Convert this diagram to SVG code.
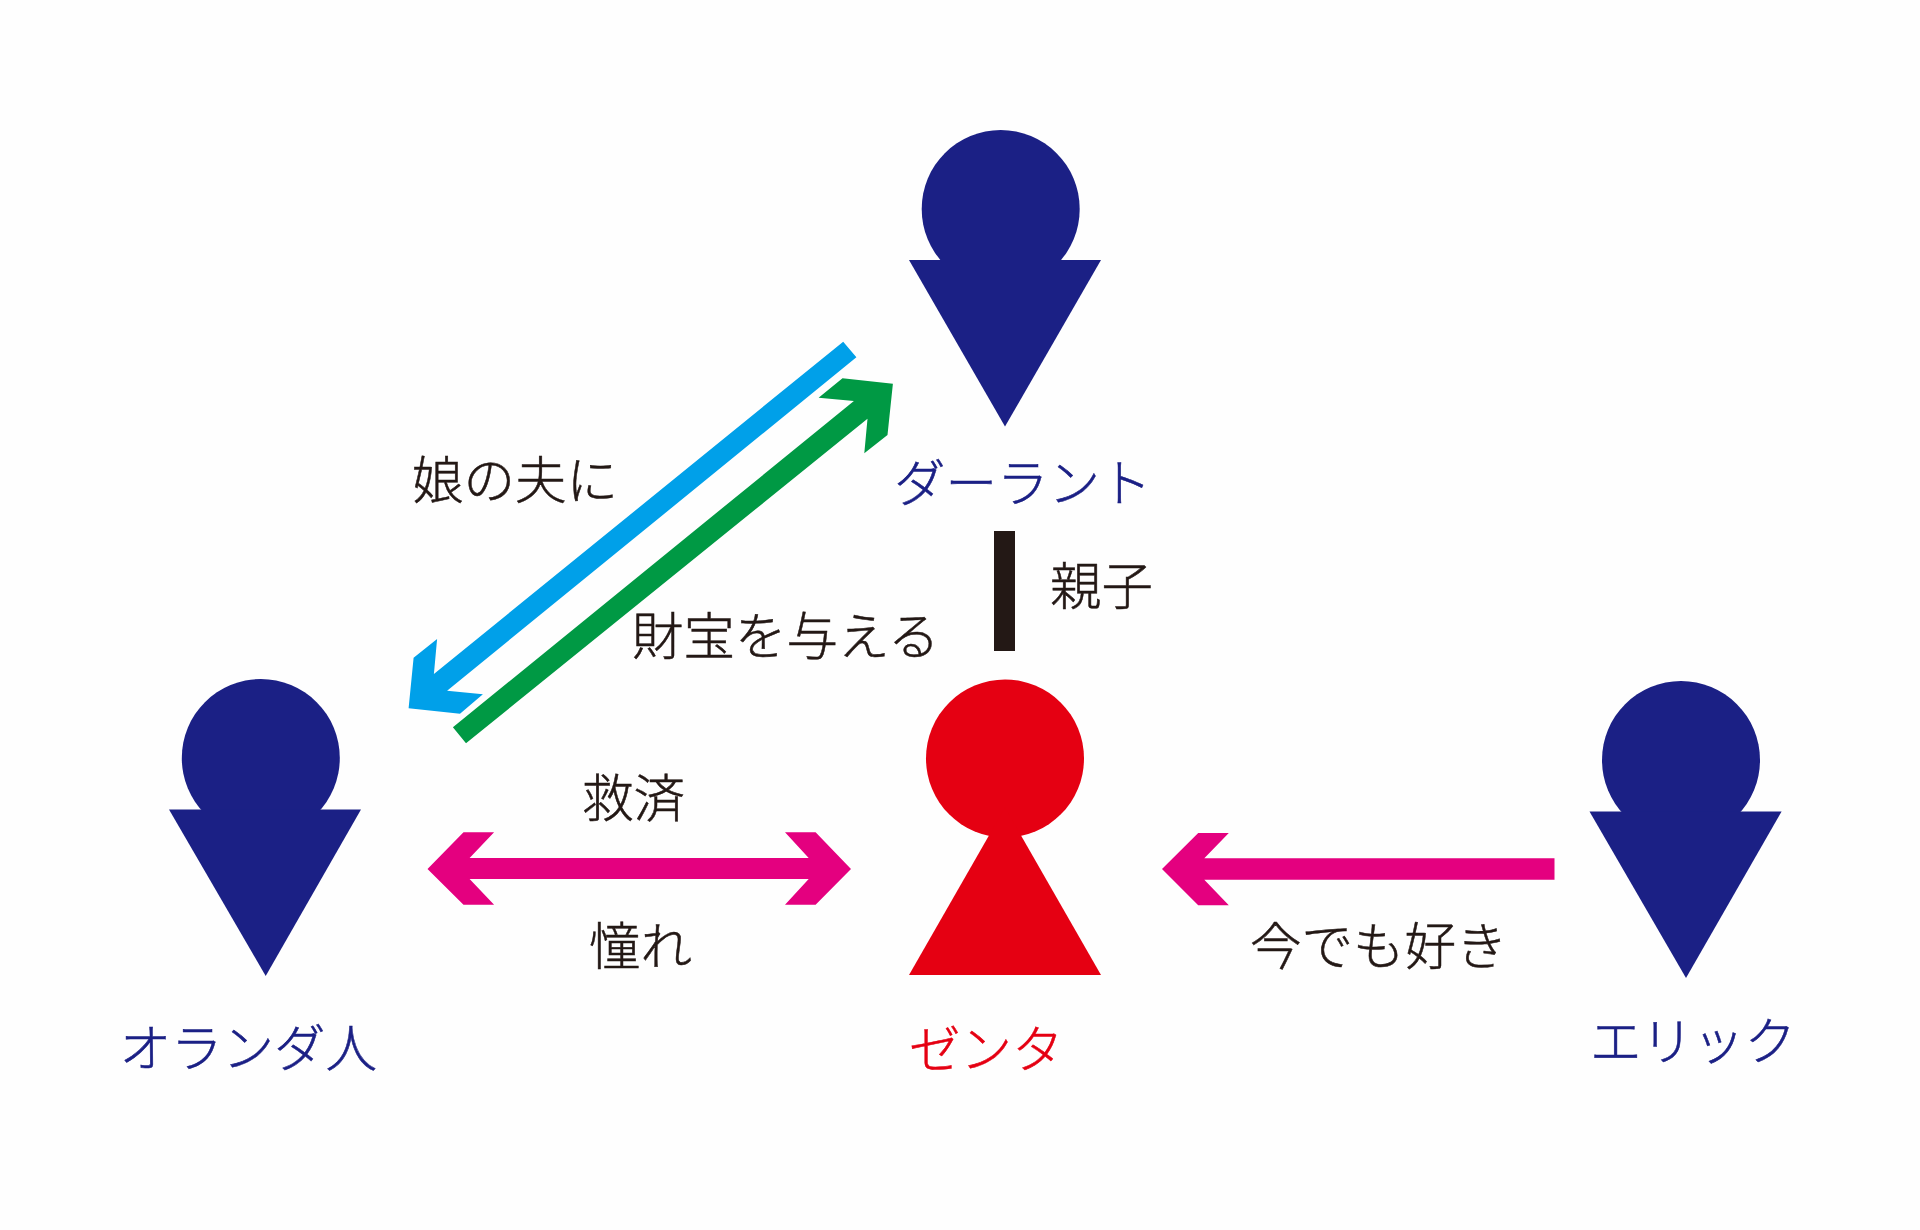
<svg xmlns="http://www.w3.org/2000/svg" width="1920" height="1230" viewBox="0 0 1920 1230">
<style>
text{font-family:"Noto Sans CJK JP","Noto Sans",sans-serif;font-size:51.5px;font-weight:300;fill:#231815;stroke:#231815;stroke-width:.5px}
.navy{fill:#1b2085}
.red{fill:#e50012}
.navy text{fill:#1b2085;stroke:#1b2085}
.red text{fill:#e50012;stroke:#e50012}
.pink{fill:#e4007f}
</style>
<rect width="1920" height="1230" fill="#fefefe"/>
<g id="connectors">
<polygon id="blue-arrow" fill="#00a0e9" points="843.2,341.7 856.4,357.3 447.1,690.7 482.9,694.3 460,713.7 408.6,708.3 413.6,657.7 437.1,639 433.9,674"/>
<polygon id="green-arrow" fill="#009944" points="452.9,727.3 853.9,401 818.6,397.7 842.5,378.3 892.9,383.7 887.5,435 864.3,453.3 867.5,418.7 466,743.3"/>
<rect id="parent-bar" x="994" y="531" width="21" height="120" fill="#231815"/>
<polygon id="mutual-arrow" class="pink" points="427.5,869 463.5,832.3 494.1,832.3 469.6,858 808.7,858 785,832.3 815.6,832.3 851,869 815.6,904.7 785,904.7 808.7,879 469.6,879 494.1,904.7 463.5,904.7"/>
<polygon id="eric-arrow" class="pink" points="1162,869 1198.2,833 1228.8,833 1204.3,858.3 1554.5,858.3 1554.5,879.7 1204.3,879.7 1228.8,905.3 1198.2,905.3"/>
<text x="412" y="499">娘の夫に</text>
<text x="632" y="655">財宝を与える</text>
<text x="1050" y="605">親子</text>
<text x="582" y="817">救済</text>
<text x="589" y="965">憧れ</text>
<text x="1250" y="965">今でも好き</text>
</g>
<g id="darant" class="navy">
<circle cx="1000.7" cy="209" r="79"/>
<polygon points="909,260 1101,260 1005,426.5"/>
<text x="894" y="502">ダーラント</text>
</g>
<g id="olanda" class="navy">
<circle cx="260.8" cy="758" r="79"/>
<polygon points="169,809.5 361,809.5 265.7,976"/>
<text x="119.5" y="1067">オランダ人</text>
</g>
<g id="zenta" class="red">
<circle cx="1005" cy="758.5" r="79"/>
<polygon points="1005,807.6 1101,975 909,975"/>
<text x="909" y="1068">ゼンタ</text>
</g>
<g id="eric" class="navy">
<circle cx="1681" cy="760" r="79"/>
<polygon points="1589.5,811.5 1781.6,811.5 1686,978"/>
<text x="1590" y="1060">エリック</text>
</g>
</svg>
